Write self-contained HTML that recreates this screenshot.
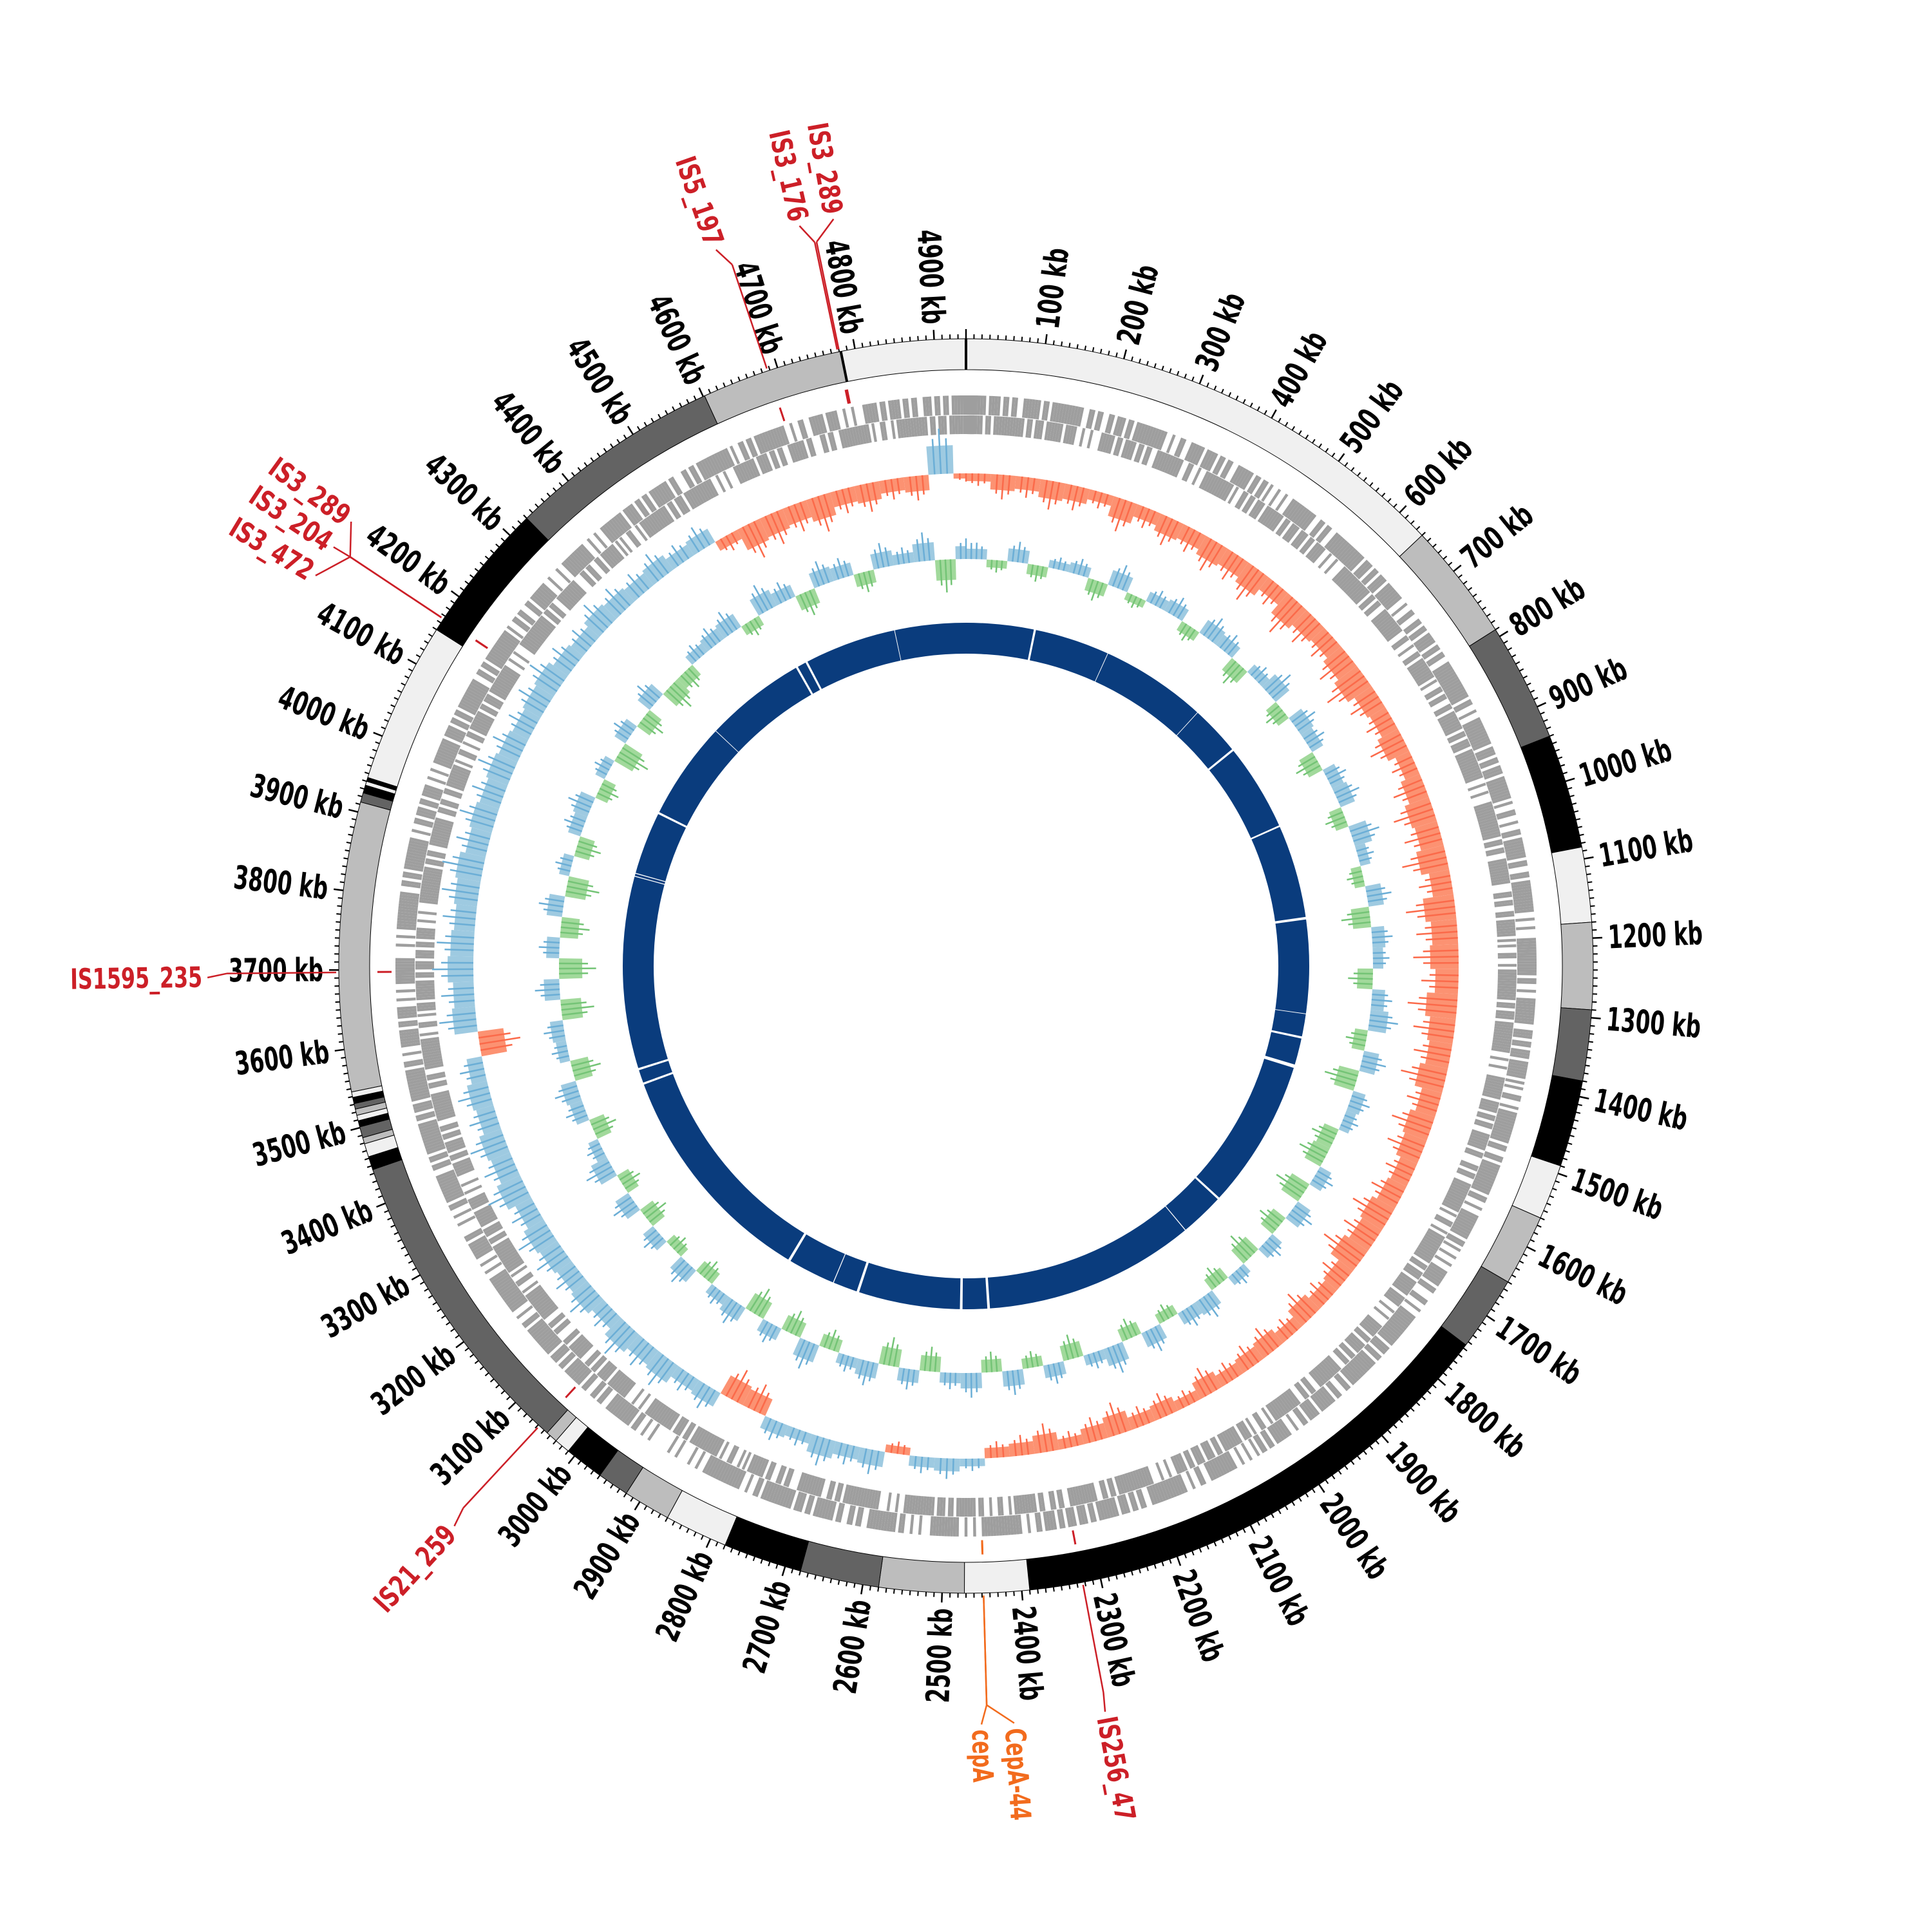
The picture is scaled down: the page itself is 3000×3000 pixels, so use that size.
<!DOCTYPE html>
<html><head><meta charset="utf-8"><style>
html,body{margin:0;padding:0;background:#fff;}
svg{display:block;}
text{font-family:"DejaVu Sans Condensed","Liberation Sans Narrow","Liberation Sans",sans-serif;font-weight:bold;}
</style></head><body>
<svg id="chart" xmlns="http://www.w3.org/2000/svg" width="3000" height="3000" viewBox="0 0 3000 3000">
<rect width="3000" height="3000" fill="#fff"/>
<g id="g-ideo"></g>
<g id="g-ticks"></g>
<g id="g-genes"></g>
<g id="g-skew"></g>
<g id="g-gc"></g>
<g id="g-navy"></g>
<g id="g-is"></g>
</svg>
<script>
// ---- data ----
const genomeKb = 4940;
const segStart = [0,640,790,940,1085,1180,1290,1380,1490,1560,1650,1745,2390,2472,2580,2680,2780,2860,2920,2960,3010,3030,3045,3445,3462,3479,3487,3501,3509,3516,3524,3531,3539,3546,3913,3925,3935,3940,3945,4150,4330,4602,4782];
const segEnd   = [640,790,940,1085,1180,1290,1380,1490,1560,1650,1745,2390,2472,2580,2680,2780,2860,2920,2960,3010,3030,3045,3445,3462,3479,3487,3501,3509,3516,3524,3531,3539,3546,3913,3925,3935,3940,3945,4150,4330,4602,4782,4940];
const segShade = [0,1,2,3,0,1,2,3,0,1,2,3,0,1,2,3,0,1,2,3,0,1,2,3,0,1,2,3,0,1,2,3,0,1,2,3,0,3,0,3,2,1,0];
const skewVals = [-15,-30,-25,-35,-30,-20,-40,-25,-35,-30,
 -40,-35,-45,-30,-50,-40,-35,-45,-55,-40,
 -35,-45,-30,-40,-50,-45,-55,-40,-60,-50,
 -55,-45,-60,-50,-45,-55,-40,-50,-45,-35,
 -40,-50,-45,-55,-35,-30,-40,-25,-35,-30,
 -25,-35,-20,-30,-25,-40,-30,-20,-35,-25,
 -20,15,25,20,-15,30,25,35,20,25,
 -35,-40,30,25,40,35,45,30,40,35,
 40,45,35,50,40,45,35,40,30,-50,
 45,40,50,45,40,45,50,40,45,40,
 45,40,35,40,45,35,30,40,35,30,
 35,25,30,-20,-45,-40,-35,-45,-30,-35,
 -25,-30,55,-10];
const gcVals = [20,-15,25,-20,15,20,-25,30,-15,20,
 25,-20,30,25,-30,20,35,-25,30,25,
 -30,25,30,-25,35,20,-20,30,-35,25,
 20,-30,25,35,-25,30,-40,25,20,-30,
 -35,25,-40,30,-30,25,-35,20,-25,30,
 25,-20,30,-25,35,20,-30,25,-20,30,
 -25,30,20,-30,25,-35,30,20,-25,35,
 -30,25,-35,30,20,-25,30,-20,25,-30,
 30,-25,35,20,-30,25,30,-35,20,25,
 -40,30,-45,25,-35,30,-40,20,-30,25,
 30,-25,20,-40,25,-30,30,-35,-25,20,
 25,30,-20,35,25,-30,30,25,-25,30,
 20,35,-40,25];
const geneFwd = "7469358274619385726493857264918375629483716295847361928475638291746583920174658392617485936271849362758493618275649382716459";
const geneRev = "3857164928375619482736591847362958174639285716493827561948372659184736295817463928571649382756194837265918473629581746392857";
const gapPos = [159,335,582,700,905,1125,1345,1400,1468,1820,1925,2418,2481,2722,2782,2895,3430,3465,3913,3920,4068,4298,4535,4560,4775];
const gapWidth = [5,1.5,1.5,5,4,6,1.5,5,8,5,2,6,6,6,2,6,5,5,2,2,5,1.5,5,5,1.5];
const isNames = ["IS3_176","IS3_289","IS5_197","IS3_289","IS3_204","IS3_472","IS1595_235","IS21_259","IS256_47","cepA","CepA-44"];
const isPos   = [4778,4780,4687,4166,4166,4166,3697,3058,2323,2448,2448];
const isLabel = [4766,4802,4676,4197,4165,4130,3693,3052,2325,2454,2420];
const isColor = ["#cc1f27","#cc1f27","#cc1f27","#cc1f27","#cc1f27","#cc1f27","#cc1f27","#cc1f27","#cc1f27","#f26b1d","#f26b1d"];

// ---- geometry ----
const NS = "http://www.w3.org/2000/svg";
const cx = 1500, cy = 1500;
function ang(kb){ return kb / genomeKb * 2 * Math.PI; }
function P(kb, r){ const a = ang(kb); return [cx + r * Math.sin(a), cy - r * Math.cos(a)]; }
function deg(kb){ return kb / genomeKb * 360; }
function sector(a, b, r1, r2){
  const lg = (b - a) / genomeKb > 0.5 ? 1 : 0;
  const p1 = P(a, r2), p2 = P(b, r2), p3 = P(b, r1), p4 = P(a, r1);
  return "M" + p1[0].toFixed(2) + "," + p1[1].toFixed(2) + " A" + r2 + "," + r2 + " 0 " + lg + " 1 " + p2[0].toFixed(2) + "," + p2[1].toFixed(2) +
    " L" + p3[0].toFixed(2) + "," + p3[1].toFixed(2) + " A" + r1 + "," + r1 + " 0 " + lg + " 0 " + p4[0].toFixed(2) + "," + p4[1].toFixed(2) + " Z";
}
function mk(tag, attrs, parent){
  const e = document.createElementNS(NS, tag);
  for (const k in attrs) e.setAttribute(k, attrs[k]);
  parent.appendChild(e);
  return e;
}
function line(kb1, r1, kb2, r2, stroke, w, parent){
  const a = P(kb1, r1), b = P(kb2, r2);
  return mk("line", {x1:a[0], y1:a[1], x2:b[0], y2:b[1], stroke:stroke, "stroke-width":w}, parent);
}

// ---- ideogram ----
const shadeColors = ["#f0f0f0", "#bdbdbd", "#636363", "#000000"];
const gI = document.getElementById("g-ideo");
const R1 = 926, R2 = 974;
for (let i = 0; i < segStart.length; i++) {
  const p = mk("path", {d: sector(segStart[i], segEnd[i], R1, R2), fill: shadeColors[segShade[i]], stroke: "#000", "stroke-width": 1}, gI);
  
  
}
const b0 = line(0, R1, 0, R2, "#000", 4, gI);


const b1 = line(4782, R1, 4782, R2, "#000", 4, gI);



// ---- ticks & labels ----
const gT = document.getElementById("g-ticks");
for (let kb = 0; kb < genomeKb; kb += 10) {
  const major = kb % 100 === 0;
  const t = line(kb, R2, kb, R2 + (major ? 15 : 7), "#000", major ? 2.5 : 2, gT);
  
  
  if (major && kb > 0) {
    const s = kb + " kb";
    const d = deg(kb);
    const p = P(kb, 998);
    const right = d < 180;
    const tx = mk("text", {x: p[0], y: p[1], "font-size": 50, fill: "#000", "dominant-baseline": "central",
      "text-anchor": right ? "start" : "end", textLength: 21 * s.length, lengthAdjust: "spacingAndGlyphs",
      transform: "rotate(" + (right ? d - 90 : d + 90) + " " + p[0] + " " + p[1] + ")"}, gT);
    tx.textContent = s;
    
    
  }
}

// ---- gene track ----
const gG = document.getElementById("g-genes");
function geneRow(str, r1, r2, offset){
  const bin = 40;
  for (let i = 0; i < str.length && i * bin < genomeKb; i++) {
    const dens = Math.min(10, parseInt(str[i], 10) + 2);
    for (let j = 0; j < 10; j++) {
      if ((j * 7 + i * 3 + offset) % 10 < dens) {
        const a = i * bin + j * 4;
        const b = Math.min(a + 4, genomeKb);
        const p = mk("path", {d: sector(a, b, r1, r2), fill: "#9e9e9e"}, gG);
        
        
      }
    }
  }
}
geneRow(geneFwd, 856, 886, 0);
geneRow(geneRev, 826, 855, 5);

// ---- value tracks ----
function valueTrack(vals, base, posColor, negColor, posLine, negLine, gid, nm){
  const g = document.getElementById(gid);
  const bin = 40;
  for (let i = 0; i < vals.length; i++) {
    const a = i * bin, b = Math.min(a + bin, genomeKb);
    if (a >= genomeKb) break;
    const v = vals[i] * 0.8;
    const pos = v >= 0;
    const fill = mk("path", {d: sector(a, b, pos ? base : base + v, pos ? base + v : base), fill: pos ? posColor : negColor}, g);
    
    
    for (let k = 1; k < 4; k++) {
      const kb = a + k * bin / 4;
      const sp = line(kb, base, kb, base + v * (k === 2 ? 1.6 : 1.25), pos ? posLine : negLine, 2.5, g);
      
      
    }
  }
}
valueTrack(skewVals, 765, "#9ecae1", "#fc9272", "#6baed6", "#fb6a4a", "g-skew", "gc-skew");
valueTrack(gcVals, 632, "#9ecae1", "#a1d99b", "#6baed6", "#74c476", "g-gc", "gc-content");

// ---- navy coverage ring ----
const gN = document.getElementById("g-navy");
const ring = mk("path", {d: sector(0, genomeKb - 0.01, 485, 533), fill: "#0a3c7d"}, gN);


for (let i = 0; i < gapPos.length; i++) {
  const gp = mk("path", {d: sector(gapPos[i] - gapWidth[i] / 2, gapPos[i] + gapWidth[i] / 2, 480, 538), fill: "#fff"}, gN);
  
  
}

// ---- IS annotations ----
const gS = document.getElementById("g-is");
for (let i = 0; i < isNames.length; i++) {
  const c = isColor[i];
  const m = line(isPos[i], 892, isPos[i], 914, c, 3, gS);
  
  
  const l1 = line(isPos[i], 978, isPos[i], 1148, c, 2.5, gS);
  
  
  const l2 = line(isPos[i], 1148, isLabel[i], 1178, c, 2.5, gS);
  
  
  const d = deg(isLabel[i]);
  const p = P(isLabel[i], 1186);
  const right = d < 180;
  const tx = mk("text", {x: p[0], y: p[1], "font-size": 44, fill: c, "dominant-baseline": "central",
    "text-anchor": right ? "start" : "end", textLength: 20.5 * isNames[i].length, lengthAdjust: "spacingAndGlyphs",
    transform: "rotate(" + (right ? d - 90 : d + 90) + " " + p[0] + " " + p[1] + ")"}, gS);
  tx.textContent = isNames[i];
  
  
}
</script>
</body></html>
